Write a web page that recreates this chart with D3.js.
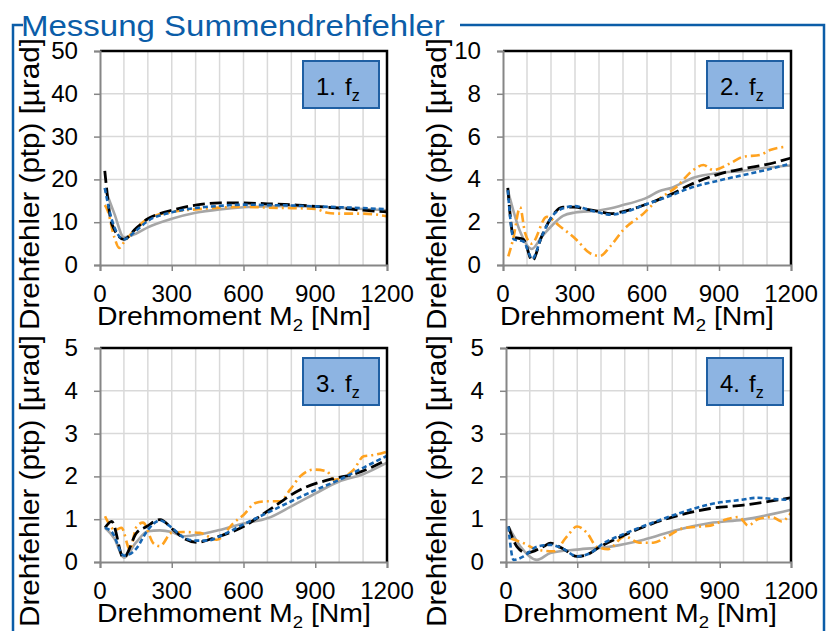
<!DOCTYPE html>
<html>
<head>
<meta charset="utf-8">
<script src="https://cdn.jsdelivr.net/npm/d3@7"></script>
<style>
  body { margin: 0; background: #fff; }
  svg { display: block; font-family: "Liberation Sans", Arial, sans-serif; }
</style>
</head>
<body>
<div id="chart"></div>
<script>
// ---------------------------------------------------------------------------
// DATA  (torque M2 [Nm], Drehfehler ptp [µrad])
// ---------------------------------------------------------------------------
const xTicks = [0, 300, 600, 900, 1200];

// 1. fz
const gray1 = [[20,18],[60,12],[100,6.5],[150,7.3],[200,8.8],[300,10.8],[400,12.2],[500,13],[600,13.5],[700,13.7],[800,13.8],[900,13.6],[1000,13.4],[1100,13.1],[1200,12.8]];
const orange1 = [[20,14],[30,13],[60,6.5],[80,4],[100,5.3],[150,8.5],[200,10.8],[300,12.4],[400,13],[500,13.4],[600,13.6],[700,13.4],[800,13.3],[900,13.1],[950,12.2],[1000,12],[1100,12],[1200,11.4]];
const black1 = [[20,22],[50,9.5],[100,6],[150,8.5],[200,10.8],[250,12],[300,12.8],[400,14],[500,14.5],[600,14.5],[700,14.3],[800,14.1],[900,13.7],[1000,13.3],[1100,12.8],[1200,12.4]];
const blue1 = [[20,18],[50,10.5],[100,6],[150,8],[200,10.3],[300,12.3],[400,13.3],[500,13.8],[600,14.1],[700,14],[800,13.9],[900,13.7],[1000,13.5],[1100,13.3],[1200,13]];

// 2. fz
const gray2 = [[20,3.5],[70,1.6],[120,0.75],[160,1.3],[200,1.8],[250,2.3],[300,2.45],[400,2.55],[450,2.65],[500,2.8],[550,2.95],[600,3.15],[650,3.45],[700,3.6],[800,4.1],[900,4.3],[1000,4.4],[1100,4.55],[1200,4.65]];
const orange2 = [[22,0.4],[43,1.25],[71,2.7],[92,1.5],[119,1.0],[182,2.25],[238,1.8],[307,1.17],[362,0.55],[404,0.42],[446,0.86],[501,1.64],[585,2.4],[640,3.0],[724,3.66],[793,4.44],[835,4.67],[876,4.44],[946,4.75],[1001,5.06],[1071,5.14],[1113,5.37],[1182,5.53]];
const black2 = [[20,3.6],[45,1.3],[85,1.2],[122,0.2],[160,1.3],[200,2.2],[250,2.7],[300,2.7],[350,2.6],[400,2.5],[450,2.4],[500,2.5],[600,2.85],[700,3.3],[780,3.75],[900,4.25],[1000,4.5],[1100,4.7],[1200,5.0]];
const blue2 = [[20,3.5],[45,1.2],[85,1.1],[122,0.3],[160,1.3],[200,2.2],[250,2.65],[300,2.75],[350,2.6],[400,2.45],[450,2.35],[500,2.45],[600,2.85],[700,3.25],[780,3.6],[900,3.95],[1000,4.2],[1100,4.45],[1200,4.75]];

// 3. fz
const gray3 = [[21,0.8],[60,0.55],[100,0.1],[150,0.45],[200,0.72],[250,0.74],[300,0.7],[350,0.6],[400,0.63],[500,0.75],[600,0.9],[700,1.02],[800,1.3],[900,1.6],[1000,1.88],[1100,2.05],[1200,2.32]];
const orange3 = [[21,1.07],[63,0.75],[90,0.8],[125,0.29],[153,0.83],[180,0.92],[223,0.44],[251,0.37],[299,0.68],[349,0.7],[418,0.68],[488,0.52],[558,0.91],[600,1.1],[650,1.38],[698,1.42],[753,1.42],[795,1.69],[837,2.0],[893,2.16],[949,2.12],[977,1.92],[1061,2.16],[1102,2.47],[1144,2.5],[1200,2.58]];
const black3 = [[21,0.8],[49,0.95],[98,0.1],[153,0.68],[195,0.83],[251,0.99],[307,0.75],[349,0.56],[405,0.46],[475,0.56],[600,0.83],[698,1.18],[837,1.69],[977,1.95],[1061,2.05],[1200,2.39]];
const blue3 = [[21,0.8],[50,0.7],[100,0.15],[150,0.3],[200,0.75],[250,0.97],[300,0.8],[350,0.57],[400,0.5],[450,0.5],[500,0.6],[600,0.88],[700,1.15],[800,1.42],[900,1.68],[1000,1.92],[1100,2.2],[1200,2.48]];

// 4. fz
const gray4 = [[10,0.83],[60,0.37],[130,0.05],[187,0.21],[299,0.29],[440,0.36],[580,0.52],[720,0.75],[860,0.91],[1000,0.99],[1200,1.22]];
const orange4 = [[20,0.55],[74,0.44],[130,0.29],[200,0.25],[257,0.6],[299,0.83],[341,0.68],[383,0.35],[430,0.3],[500,0.6],[560,0.45],[620,0.45],[680,0.6],[740,0.78],[800,0.82],[860,0.85],[930,1.0],[980,1.05],[1020,0.85],[1060,1.0],[1120,1.05],[1160,0.95],[1200,1.15]];
const black4 = [[10,0.83],[46,0.36],[88,0.21],[158,0.36],[187,0.44],[243,0.3],[299,0.13],[341,0.17],[397,0.36],[495,0.62],[608,0.88],[720,1.08],[860,1.25],[1000,1.33],[1113,1.42],[1200,1.5]];
const blue4 = [[10,0.83],[32,0.05],[74,0.13],[130,0.36],[187,0.4],[243,0.3],[299,0.13],[355,0.21],[411,0.44],[495,0.65],[608,0.9],[720,1.12],[860,1.35],[1000,1.46],[1056,1.5],[1130,1.47],[1200,1.45]];

// ---------------------------------------------------------------------------
// LAYOUT
// ---------------------------------------------------------------------------
const W = 827, H = 631;
const FONT_TICK = 23, TICK_STRETCH = 1.05;

const panels = [
  { label: "1.", left: 100, right: 387, top: 51, bottom: 265, yMax: 50, yStep: 10, titleX: 39,
    series: { gray: gray1, orange: orange1, black: black1, blue: blue1 } },
  { label: "2.", left: 503, right: 791, top: 51, bottom: 265, yMax: 10, yStep: 2, titleX: 446,
    series: { gray: gray2, orange: orange2, black: black2, blue: blue2 } },
  { label: "3.", left: 100, right: 387, top: 348, bottom: 562, yMax: 5, yStep: 1, titleX: 39,
    series: { gray: gray3, orange: orange3, black: black3, blue: blue3 } },
  { label: "4.", left: 506, right: 791, top: 348, bottom: 562, yMax: 5, yStep: 1, titleX: 446,
    series: { gray: gray4, orange: orange4, black: black4, blue: blue4 } }
];

// draw order: gray underneath, blue on top
const styles = [
  { key: "gray",   color: "#a6a6a6", width: 2.6, dash: null },
  { key: "orange", color: "#ffa21f", width: 2.6, dash: "9,4,2,4" },
  { key: "black",  color: "#000000", width: 2.8, dash: "12,5" },
  { key: "blue",   color: "#1666b3", width: 2.6, dash: "5,3" }
];

const svg = d3.select("#chart").append("svg")
  .attr("width", W).attr("height", H);

// horizontal factor that makes a text fill a given length
function fit(sel, target) {
  const len = sel.node().getComputedTextLength();
  return target / len;
}

// ---------------------------------------------------------------------------
// FRAME + TITLE
// ---------------------------------------------------------------------------
const frameColor = "#0b5da8";
svg.append("path")
  .attr("d", "M23,25 H13 V640 M460,25 H824 V640")
  .attr("fill", "none")
  .attr("stroke", frameColor)
  .attr("stroke-width", 2.5);

const title = svg.append("text")
  .attr("font-size", 29)
  .attr("fill", frameColor)
  .text("Messung Summendrehfehler");
title.attr("transform", `translate(21,36) scale(${fit(title, 424)},1)`);

// ---------------------------------------------------------------------------
// PANELS
// ---------------------------------------------------------------------------
panels.forEach(p => {
  const x = d3.scaleLinear().domain([0, 1200]).range([p.left, p.right]);
  const y = d3.scaleLinear().domain([0, p.yMax]).range([p.bottom, p.top]);
  const yTicks = d3.range(0, p.yMax + p.yStep / 2, p.yStep);
  const g = svg.append("g");

  // grid
  g.append("g").selectAll("line")
    .data(d3.range(100, 1200, 100))
    .join("line")
    .attr("x1", d => x(d)).attr("x2", d => x(d))
    .attr("y1", p.top).attr("y2", p.bottom)
    .attr("stroke", "#d9d9d9").attr("stroke-width", 1.5);
  g.append("g").selectAll("line")
    .data(yTicks.slice(1))
    .join("line")
    .attr("x1", p.left).attr("x2", p.right)
    .attr("y1", d => y(d)).attr("y2", d => y(d))
    .attr("stroke", "#d9d9d9").attr("stroke-width", 1.5);

  // series
  const line = d3.line()
    .x(d => x(d[0]))
    .y(d => y(d[1]))
    .curve(d3.curveMonotoneX);
  styles.forEach(s => {
    g.append("path")
      .datum(p.series[s.key])
      .attr("d", line)
      .attr("fill", "none")
      .attr("stroke", s.color)
      .attr("stroke-width", s.width)
      .attr("stroke-dasharray", s.dash)
      .attr("stroke-linejoin", "round");
  });

  // plot border: black top/right, gray axes left/bottom
  g.append("path")
    .attr("d", `M${p.left},${p.top} H${p.right} V${p.bottom}`)
    .attr("fill", "none").attr("stroke", "#000").attr("stroke-width", 2.5);

  const yAxis = g.append("g")
    .attr("transform", `translate(${p.left},0)`)
    .call(d3.axisLeft(y).tickValues(yTicks).tickSize(6).tickFormat(""));
  const xAxis = g.append("g")
    .attr("transform", `translate(0,${p.bottom})`)
    .call(d3.axisBottom(x).tickValues(xTicks).tickSize(6).tickFormat(""));
  [yAxis, xAxis].forEach(a => {
    a.select(".domain").attr("stroke", "#868686").attr("stroke-width", 2);
    a.selectAll(".tick line").attr("stroke", "#868686").attr("stroke-width", 1.5);
  });

  // tick labels
  g.append("g").selectAll("text")
    .data(yTicks)
    .join("text")
    .attr("transform", d => `translate(${p.left - 22},${y(d) + 8}) scale(${TICK_STRETCH},1)`)
    .attr("text-anchor", "end")
    .attr("font-size", FONT_TICK)
    .text(d => d);
  g.append("g").selectAll("text")
    .data(xTicks)
    .join("text")
    .attr("transform", d => `translate(${x(d)},${p.bottom + 37}) scale(${TICK_STRETCH},1)`)
    .attr("text-anchor", "middle")
    .attr("font-size", FONT_TICK)
    .text(d => d);

  // axis titles
  const xt = g.append("text").attr("font-size", 26);
  xt.append("tspan").text("Drehmoment M");
  xt.append("tspan").attr("font-size", 17).attr("dy", 6).text("2");
  xt.append("tspan").attr("dy", -6).text(" [Nm]");
  xt.attr("transform", `translate(${p.left - 3},${p.bottom + 60}) scale(${fit(xt, 274)},1)`);

  const yt = g.append("text")
    .attr("font-size", 27)
    .attr("text-anchor", "middle")
    .text("Drehfehler (ptp) [µrad]");
  yt.attr("transform",
    `translate(${p.titleX},${(p.top + p.bottom) / 2 + 26}) rotate(-90) scale(${fit(yt, 292)},1)`);

  // legend box
  const bx = p.right - 84, by = p.top + 10;
  g.append("rect")
    .attr("x", bx).attr("y", by)
    .attr("width", 76).attr("height", 47)
    .attr("fill", "#8db4e2")
    .attr("stroke", "#1f5fa3")
    .attr("stroke-width", 2);
  const lt = g.append("text")
    .attr("x", bx + 13).attr("y", by + 34)
    .attr("font-size", 24);
  lt.append("tspan").text(p.label);
  lt.append("tspan").attr("dx", 9).text("f");
  lt.append("tspan").attr("font-size", 16).attr("dy", 6).text("z");
});
</script>
</body>
</html>
